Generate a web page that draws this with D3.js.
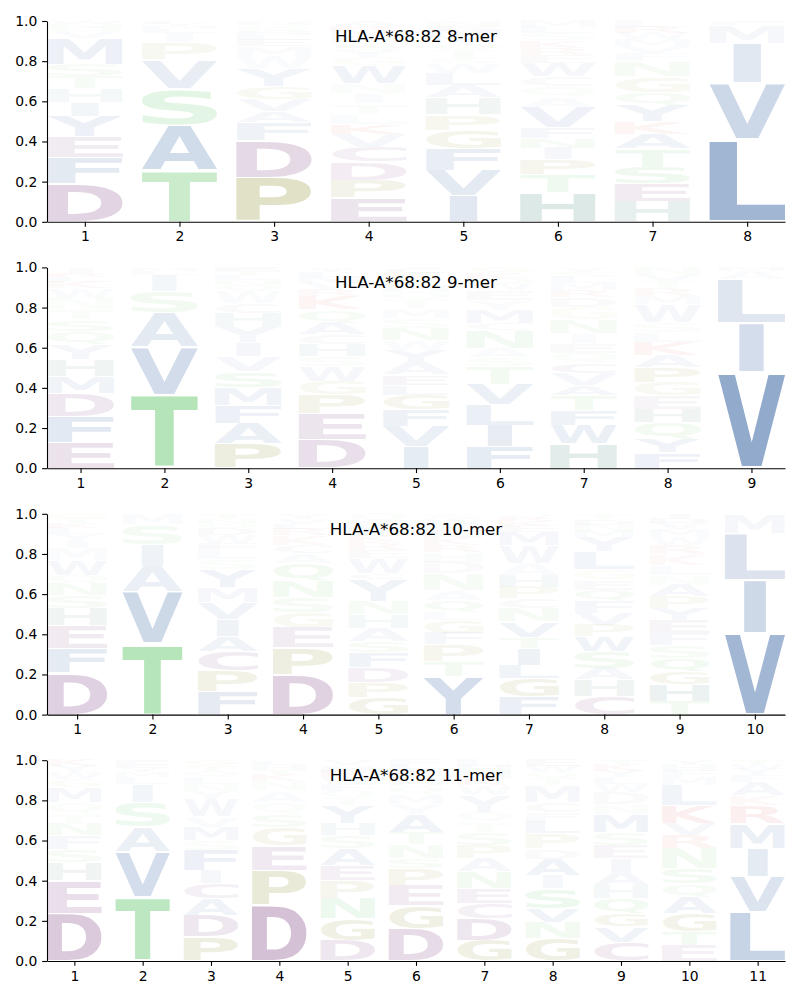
<!DOCTYPE html>
<html><head><meta charset="utf-8">
<script src="https://cdn.jsdelivr.net/npm/d3@7"></script>
<style>body{margin:0;background:#fff}svg{display:block}</style>
</head><body>
<script>
// ---- data: letter frequencies per position, listed bottom-to-top ----
const titles = ["HLA-A*68:82 8-mer", "HLA-A*68:82 9-mer", "HLA-A*68:82 10-mer", "HLA-A*68:82 11-mer"];
const mer8 = [
 "D.19 F.13 E.105 Y.10 I.07 H.07 T.06 S.06 M.13 V.03 Q.02 N.02 W.015",
 "T.255 A.227 S.18 V.145 P.085 I.05 L.02 M.015 Y.01 F.013",
 "P.22 D.187 F.09 A.055 V.058 G.065 Y.09 W.06 M.05 E.03 L.025 H.02 S.02 Q.015 N.015",
 "E.118 P.09 D.09 C.075 V.065 K.05 L.05 T.05 I.05 N.05 W.09 G.04 Y.035 S.035 F.03 M.03 R.025 A.027",
 "I.13 V.126 F.11 G.09 P.078 H.083 A.063 L.058 W.05 S.025 T.04 Q.035 Y.03 M.03 E.025 N.027",
 "H.146 T.088 P.075 I.058 N.05 F.055 V.1 A.05 Q.05 C.05 W.07 E.04 R.035 K.035 S.035 L.03 M.033",
 "H.10 E.09 S.083 T.09 A.075 K.06 Y.08 Q.065 G.08 N.075 F.04 V.035 M.035 W.03 R.03 L.032",
 "L.41 V.28 I.20 M.09 F.02"
];
const mer9 = [
 "E.127 F.13 D.117 M.083 H.083 Y.075 Q.067 S.058 T.05 N.058 W.05 K.03 L.025 R.02 I.027",
 "T.365 V.238 A.17 S.108 I.083 L.02 M.016",
 "P.123 A.10 F.088 M.09 S.08 V.075 I.07 Y.08 H.067 C.05 W.058 Q.03 N.025 L.025 T.02 E.019",
 "D.143 E.127 P.095 G.067 W.075 S.05 H.058 C.05 A.058 Q.067 K.067 R.035 V.03 M.03 L.025 Y.023",
 "I.107 V.10 F.083 G.075 L.05 E.05 A.06 Y.06 W.05 N.06 S.05 M.05 T.04 Q.04 H.035 P.03 K.03 C.03",
 "F.107 I.108 L.10 V.10 T.09 S.045 A.045 N.09 C.035 M.067 Y.05 E.05 W.03 Q.03 K.028 G.025",
 "H.123 W.092 F.075 T.075 A.05 V.058 C.05 Q.05 E.05 I.05 N.07 G.06 D.05 R.035 M.035 L.03 S.025 Y.022",
 "F.077 Y.07 Q.08 H.067 E.067 G.067 P.075 A.058 K.067 L.05 S.05 W.09 M.04 R.04 T.035 V.035 N.032",
 "V.477 I.247 L.217 A.04 M.019"
];
const mer10 = [
 "D.207 F.124 E.113 H.086 S.066 N.058 Q.04 W.075 M.058 I.035 Y.035 L.03 K.025 T.025 G.023",
 "T.353 V.257 A.128 I.108 S.10 M.054",
 "F.116 P.10 C.10 A.075 I.083 V.083 M.075 Y.09 S.05 L.058 E.025 W.04 D.03 Q.025 N.025 T.025",
 "D.199 P.133 E.10 G.075 S.075 N.083 Q.09 A.05 C.04 K.05 R.03 L.025 V.025 Y.025",
 "G.083 P.075 D.075 F.075 S.058 A.066 H.066 N.066 Y.108 C.03 W.075 E.04 R.04 K.035 M.035 L.035 Q.038",
 "Y.19 T.075 P.083 F.058 G.066 L.04 Q.058 A.05 N.083 D.058 H.05 R.033 K.04 E.035 M.03 W.025 S.026",
 "F.09 G.09 L.066 I.083 T.058 V.075 N.066 C.05 P.058 H.058 A.058 W.09 M.066 E.03 K.025 R.02 Q.017",
 "C.09 H.083 A.058 S.083 W.075 P.058 V.058 F.058 Q.058 E.05 G.05 L.09 Y.075 M.03 N.03 D.027 T.027",
 "T.066 H.083 G.066 Q.066 S.066 F.058 E.066 Y.058 P.058 A.058 N.05 L.05 K.055 R.045 W.04 M.04 V.03 D.025 I.02",
 "V.406 I.265 L.232 M.097"
];
const mer11 = [
 "D.235 E.166 H.091 S.066 F.066 N.058 T.05 Q.058 M.075 G.04 W.035 Y.03 K.03",
 "T.318 V.224 A.124 S.124 I.091 L.035 M.025 Y.02 E.02 F.019",
 "P.12 D.108 A.083 C.075 I.066 F.10 S.05 M.066 V.05 W.09 Y.04 N.035 L.035 Q.03 T.027 G.025",
 "D.277 P.174 E.124 G.091 S.066 Q.058 A.058 N.05 K.03 T.025 H.025 L.022",
 "D.103 G.108 N.10 P.091 E.075 A.083 S.066 H.058 Y.091 T.033 Q.04 F.035 W.035 R.03 M.027 V.025",
 "D.16 G.116 E.10 P.083 S.05 N.07 T.06 A.09 Y.05 M.05 Q.04 H.035 K.035 L.03 F.031",
 "G.103 D.108 C.075 E.075 N.083 A.066 P.066 S.066 T.05 Q.05 Y.083 W.05 K.035 M.03 H.03 L.03",
 "G.111 N.083 V.066 S.10 I.066 A.083 D.05 P.075 L.058 F.05 C.05 M.083 T.035 Q.03 W.03 E.03",
 "C.095 V.075 G.066 Q.075 H.066 A.066 I.066 E.066 S.066 M.091 N.05 D.058 W.04 L.035 Y.03 K.03 T.025",
 "E.078 T.066 G.091 A.083 Q.066 S.075 N.10 R.066 V.058 K.091 L.10 M.04 F.03 H.03 Y.026",
 "L.244 V.174 I.141 M.124 R.091 K.05 A.066 F.035 Y.03 W.025 T.02"
];
const yTicks = [0, 0.2, 0.4, 0.6, 0.8, 1.0];
const panels = [mer8, mer9, mer10, mer11];

// ---- styling ----
const groupColors = [
  ["AVLIMFWY", "#6688b8"],
  ["STNQ", "#76cd7d"],
  ["DEC", "#99699d"],
  ["PG", "#a3a356"],
  ["H", "#5f9990"],
  ["KR", "#e05a5a"]
];
const colorOf = {};
groupColors.forEach(([s, c]) => s.split("").forEach(a => colorOf[a] = c));

const W = 800, H = 1000, L = 47, R = 785;
const FS = 100, FONT = `bold ${FS}px "DejaVu Sans"`;
const ctx = document.createElement("canvas").getContext("2d");
ctx.font = FONT;
const metrics = {};
function met(ch) {
  if (!metrics[ch]) {
    const m = ctx.measureText(ch);
    metrics[ch] = {l: m.actualBoundingBoxLeft, r: m.actualBoundingBoxRight,
                   a: m.actualBoundingBoxAscent, d: m.actualBoundingBoxDescent};
  }
  return metrics[ch];
}
const refW = (() => { const m = met("E"); return m.l + m.r; })();

const svg = d3.select("body").append("svg").attr("width", W).attr("height", H);

panels.forEach((cols, pi) => {
  const n = cols.length;
  const top = 21 + pi * 246.4, h = 200.8;
  const x = d3.scaleLinear().domain([0.6, n + 0.4]).range([L, R]);
  const y = d3.scaleLinear().domain([0, 1]).range([top + h, top]);
  const g = svg.append("g");
  const lg = g.append("g");
  cols.forEach((str, ci) => {
    const pos = ci + 1;
    const letters = str.trim().split(/\s+/).map(t => ({aa: t[0], v: +t.slice(1)}));
    let cum = 0;
    letters.forEach(d => {
      const y0 = cum, y1 = cum + d.v;
      const bx = x(pos - 0.4), bw = x(pos + 0.4) - bx;
      const bt = y(y1), bh = y(y0) - y(y1);
      const pad = bh * 0.025;
      const m = met(d.aa);
      const iw = m.l + m.r, ih = m.a + m.d;
      const sx = bw / Math.max(iw, refW);
      const sy = (bh - 2 * pad) / ih;
      const ox = bx + (bw - iw * sx) / 2;
      const oy = bt + pad;
      const alpha = Math.max(0.035, Math.min(0.9, 1.5 * d.v) * (1 - 0.5 * cum));
      lg.append("text")
        .attr("x", 0).attr("y", 0)
        .attr("transform", `translate(${ox},${oy}) scale(${sx},${sy}) translate(${m.l},${m.a})`)
        .attr("font-family", "DejaVu Sans").attr("font-weight", "bold")
        .attr("font-size", FS)
        .attr("fill", colorOf[d.aa]).attr("fill-opacity", alpha)
        .text(d.aa);
      cum = y1;
    });
  });

  const ya = g.append("g").attr("transform", `translate(${L},0)`)
    .call(d3.axisLeft(y).tickValues(yTicks).tickFormat(d3.format(".1f"))
      .tickSize(4.86).tickSizeOuter(0).tickPadding(4.86));
  const xa = g.append("g").attr("transform", `translate(0,${top + h})`)
    .call(d3.axisBottom(x).tickValues(d3.range(1, n + 1)).tickFormat(d3.format("d"))
      .tickSize(4.86).tickSizeOuter(0).tickPadding(4.86));
  [ya, xa].forEach(a => {
    a.attr("font-family", "DejaVu Sans").attr("font-size", 13.9);
    a.selectAll("path,line").attr("stroke", "#000").attr("stroke-width", 1.1);
    a.selectAll("text").attr("fill", "#000");
  });

  g.append("text").attr("x", (L + R) / 2).attr("y", top + 21)
    .attr("text-anchor", "middle").attr("font-family", "DejaVu Sans")
    .attr("font-size", 16.67).attr("fill", "#000").text(titles[pi]);
});
</script>
</body></html>
